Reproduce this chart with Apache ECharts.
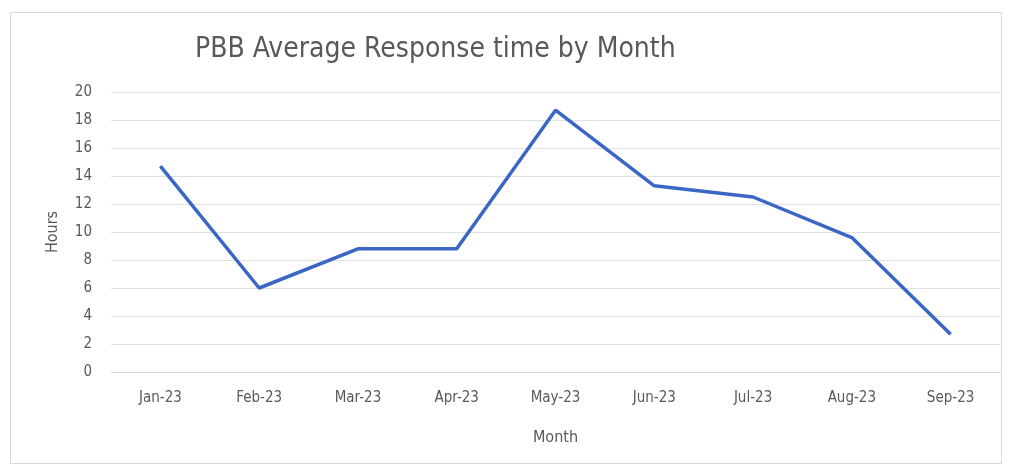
<!DOCTYPE html>
<html>
<head>
<meta charset="utf-8">
<script src="https://cdn.jsdelivr.net/npm/echarts@6/dist/echarts.min.js"></script>
<style>
  html, body { margin: 0; padding: 0; background: #fff; }
  #wrap { position: absolute; left: 10px; top: 12px; width: 990px; height: 450px; border: 1px solid #d9d9d9; }
  #chart { position: absolute; left: 0; top: 0; width: 1012px; height: 466px; }
</style>
</head>
<body>
<div id="wrap"></div>
<div id="chart"></div>
<script>
var months = ['Jan-23', 'Feb-23', 'Mar-23', 'Apr-23', 'May-23', 'Jun-23', 'Jul-23', 'Aug-23', 'Sep-23'];
var hours = [14.7, 6.0, 8.8, 8.8, 18.7, 13.3, 12.5, 9.6, 2.7];

var font = 'Liberation Sans Narrow, DejaVu Sans Condensed, Liberation Sans, sans-serif';

var chart = echarts.init(document.getElementById('chart'));
chart.setOption({
	backgroundColor: 'transparent',
	title: {
		text: 'PBB Average Response time by Month',
		left: 190,
		top: 31,
		textStyle: { fontFamily: font, fontSize: 28, fontWeight: 'normal', color: '#595959' }
	},
	grid: { left: 111, right: 12, top: 92, bottom: 94 },
	xAxis: {
		type: 'category',
		data: months,
		name: 'Month',
		nameLocation: 'middle',
		nameGap: 58,
		nameTextStyle: { fontFamily: font, fontSize: 16, color: '#595959' },
		axisLine: { lineStyle: { color: '#d9d9d9' } },
		axisTick: { show: false },
		axisLabel: { fontFamily: font, fontSize: 15, color: '#595959', margin: 19 }
	},
	yAxis: {
		type: 'value',
		min: 0,
		max: 20,
		interval: 2,
		name: 'Hours',
		nameLocation: 'middle',
		nameGap: 50,
		nameTextStyle: { fontFamily: font, fontSize: 16, color: '#595959' },
		axisLine: { show: false },
		axisTick: { show: false },
		axisLabel: { fontFamily: font, fontSize: 15, color: '#595959', margin: 19 },
		splitLine: { lineStyle: { color: '#e0e0e0' } }
	},
	series: [{
		type: 'line',
		data: hours,
		symbol: 'none',
		lineStyle: { color: '#3a66c6', width: 3.5 },
		animation: false
	}]
});
</script>
</body>
</html>
